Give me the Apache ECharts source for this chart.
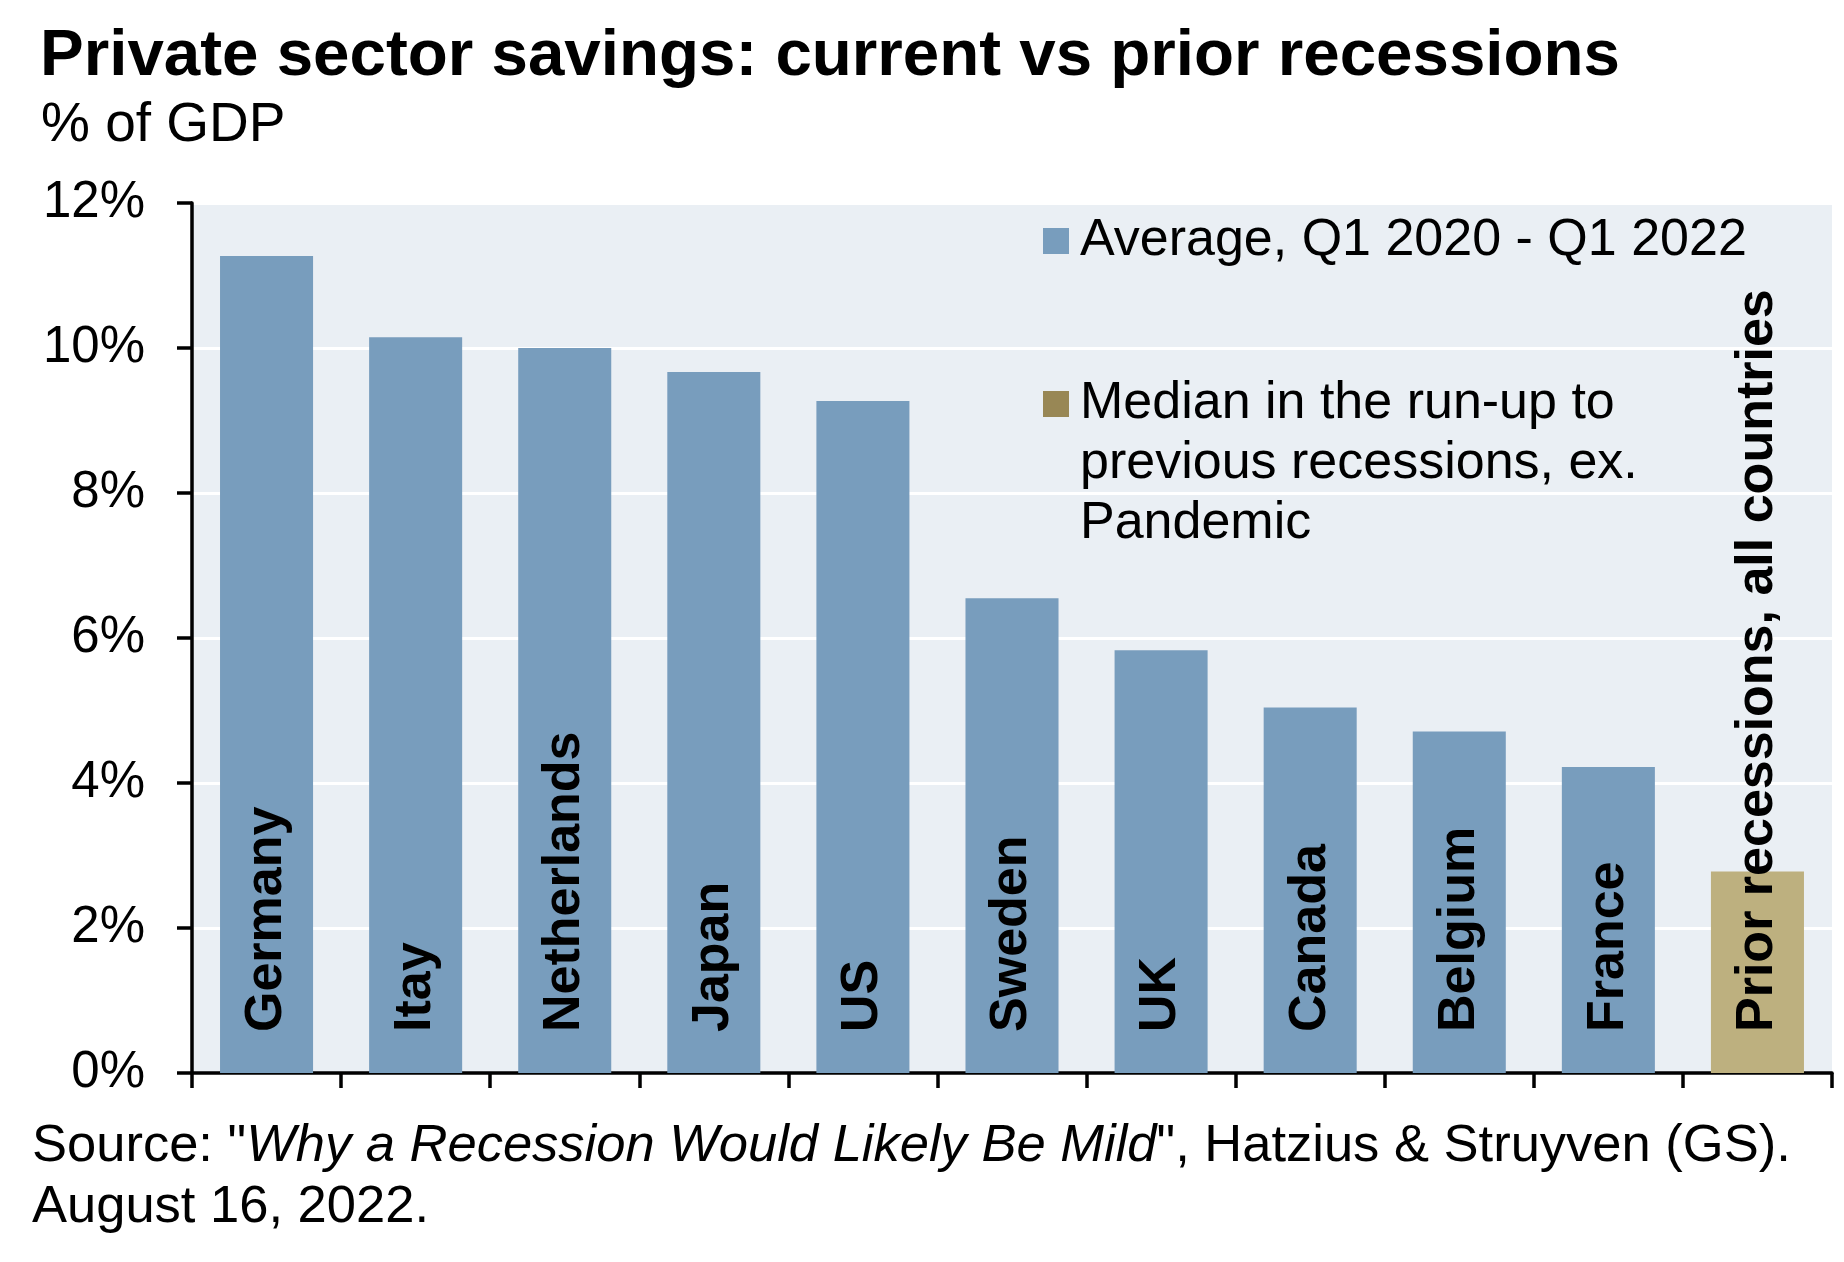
<!DOCTYPE html>
<html>
<head>
<meta charset="utf-8">
<script src="https://cdn.jsdelivr.net/npm/echarts@6/dist/echarts.min.js"></script>
<style>
html,body{margin:0;padding:0;background:#ffffff;}
#chart{width:1844px;height:1262px;}
</style>
</head>
<body>
<div id="chart"></div>
<script>
// ---- data ----
const categories = ['Germany', 'Itay', 'Netherlands', 'Japan', 'US', 'Sweden', 'UK', 'Canada', 'Belgium', 'France', 'Prior recessions, all countries'];
const currentAverage = [11.27, 10.15, 10.0, 9.67, 9.27, 6.55, 5.83, 5.04, 4.71, 4.22, '-'];
const priorMedian = ['-', '-', '-', '-', '-', '-', '-', '-', '-', '-', 2.78];
const seriesNames = ['Average, Q1 2020 - Q1 2022', 'Median in the run-up to previous recessions, ex. Pandemic'];
const medianLegendLines = ['Median in the run-up to', 'previous recessions, ex.', 'Pandemic'];
const yMin = 0, yMax = 12, yStep = 2;
const titleText = 'Private sector savings: current vs prior recessions';
const subtitleText = '% of GDP';
const sourceItalic = 'Why a Recession Would Likely Be Mild';
const sourceRest = '", Hatzius & Struyven (GS).';
const sourceLine2 = 'August 16, 2022.';

// ---- chart ----
const FONT = '"Liberation Sans", Arial, Helvetica, sans-serif';
const chart = echarts.init(document.getElementById('chart'), null, {renderer: 'canvas'});

const labelStyle = {
  show: true,
  position: 'insideBottom',
  rotate: 90,
  align: 'left',
  verticalAlign: 'middle',
  distance: 41,
  formatter: '{b}',
  fontFamily: FONT,
  fontSize: 52,
  fontWeight: 'bold',
  color: '#000000'
};

const option = {
  backgroundColor: '#ffffff',
  animation: false,
  textStyle: {fontFamily: FONT},
  title: [
    {
      text: titleText,
      left: 40, top: 24, padding: 0,
      textStyle: {fontFamily: FONT, fontSize: 65.5, fontWeight: 'bold', color: '#000000', lineHeight: 65}
    },
    {
      text: subtitleText,
      left: 41, top: 98, padding: 0,
      textStyle: {fontFamily: FONT, fontSize: 55, fontWeight: 'normal', color: '#000000', lineHeight: 55}
    }
  ],
  legend: [
    {
      data: [seriesNames[0]],
      left: 1043, top: 215, padding: 0,
      orient: 'vertical',
      icon: 'rect',
      itemWidth: 26, itemHeight: 26,
      selectedMode: false,
      textStyle: {fontFamily: FONT, fontSize: 52, color: '#000000', padding: [0, 0, 0, 6]}
    },
    {
      data: [seriesNames[1]],
      left: 1043, top: 254, padding: 0,
      orient: 'vertical',
      icon: 'rect',
      itemWidth: 26, itemHeight: 26,
      selectedMode: false,
      itemStyle: {color: '#988755'},
      formatter: function () { return '\n\n' + medianLegendLines.join('\n'); },
      textStyle: {fontFamily: FONT, fontSize: 52, lineHeight: 60, color: '#000000', padding: [0, 0, 0, 6]}
    }
  ],
  grid: {
    left: 192, right: 12, top: 203, bottom: 189,
    show: true,
    backgroundColor: '#eaeff4',
    borderWidth: 0
  },
  xAxis: {
    type: 'category',
    data: categories,
    boundaryGap: true,
    axisLine: {show: true, lineStyle: {color: '#000000', width: 3.5}},
    axisTick: {show: true, interval: 0, inside: false, length: 15, alignWithLabel: false, lineStyle: {color: '#000000', width: 3.5}},
    axisLabel: {show: false, interval: 0},
    splitLine: {show: false}
  },
  yAxis: {
    type: 'value',
    min: yMin, max: yMax, interval: yStep,
    axisLine: {show: true, lineStyle: {color: '#000000', width: 3.5}},
    axisTick: {show: true, inside: false, length: 15, lineStyle: {color: '#000000', width: 3.5}},
    axisLabel: {show: true, margin: 47, formatter: '{value}%', fontFamily: FONT, fontSize: 51, color: '#000000'},
    splitLine: {show: true, lineStyle: {color: '#ffffff', width: 3}}
  },
  series: [
    {
      name: seriesNames[0],
      type: 'bar',
      stack: 'one',
      data: currentAverage,
      barWidth: '62.4%',
      itemStyle: {color: '#789dbd'},
      label: labelStyle,
      z: 2
    },
    {
      name: seriesNames[1],
      type: 'bar',
      stack: 'one',
      data: priorMedian,
      barWidth: '62.4%',
      itemStyle: {color: '#bdb07f'},
      label: labelStyle,
      z: 2
    }
  ],
  graphic: [
    {
      type: 'text',
      left: 32, top: 1116,
      style: {
        text: 'Source: "{i|' + sourceItalic + '}' + sourceRest + '\n' + sourceLine2,
        font: '52.5px ' + FONT,
        fill: '#000000',
        lineHeight: 61,
        rich: {
          i: {fontStyle: 'italic', fontFamily: FONT, fontSize: 52.5, fill: '#000000', lineHeight: 61}
        }
      }
    }
  ]
};
chart.setOption(option);
</script>
</body>
</html>
